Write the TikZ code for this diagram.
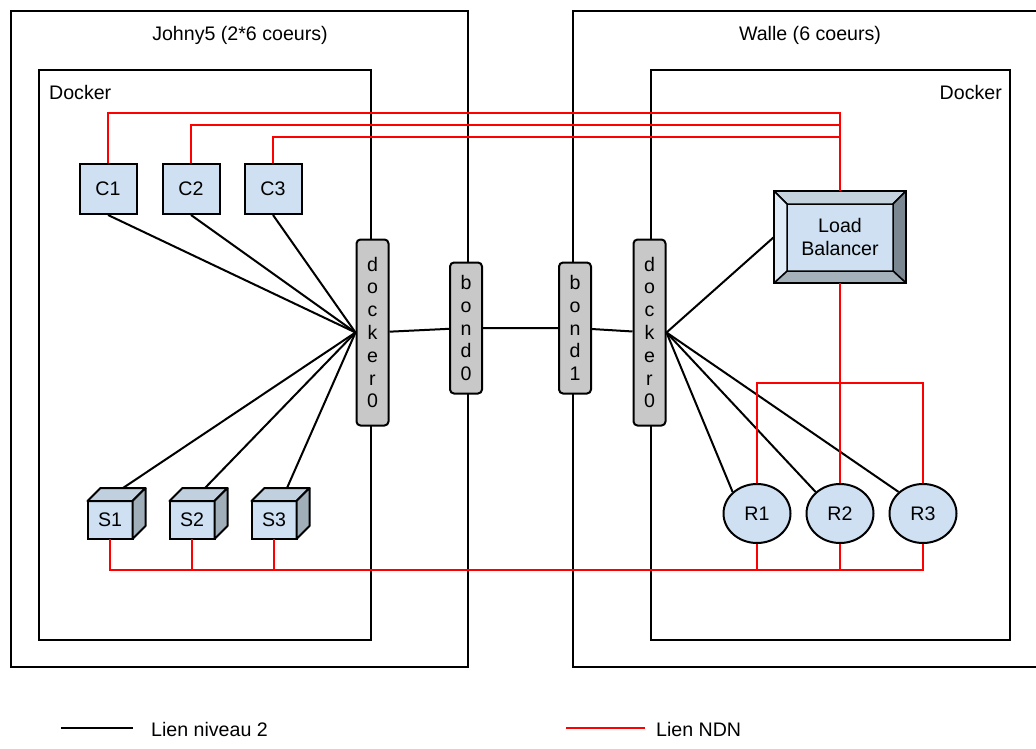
\documentclass[tikz,border=0pt]{standalone}
\usepackage{fontspec}
\setmainfont{Liberation Sans}
\usepackage{tikz}
\usetikzlibrary{shapes.geometric}
\definecolor{fondbleu}{RGB}{206,224,242}
\definecolor{gris}{RGB}{200,200,200}
\definecolor{cubehaut}{RGB}{192,208,222}
\definecolor{cubecote}{RGB}{160,174,186}
\definecolor{lbhaut}{RGB}{196,210,222}
\definecolor{lbgauche}{RGB}{224,236,248}
\definecolor{lbdroite}{RGB}{122,134,144}
\definecolor{lbbas}{RGB}{164,176,186}

\begin{document}
\begin{tikzpicture}[x = 1pt, y = -1pt,
	every node/.style = {font = \fontsize{19.6}{22.8}\selectfont, inner sep = 0pt},
	zone/.style = {line width = 2pt},
	lien/.style = {line width = 2pt},
	ndn/.style = {line width = 2pt, red},
	cont/.style = {draw, line width = 2pt, fill = fondbleu, minimum width = 57pt, minimum height = 50pt},
	srv/.style = {draw, line width = 2pt, fill = fondbleu, outer sep = 0pt, minimum width = 45pt, minimum height = 38pt},
	cube/.style = {draw, line width = 2pt, line join = round},
	rtr/.style = {ellipse, draw, line width = 2pt, fill = fondbleu, minimum width = 67pt, minimum height = 59pt},
	bridge/.style = {draw, line width = 2pt, fill = gris, rounded corners = 4pt, minimum width = 32pt, align = center},
	lb/.style = {draw, line width = 2pt, fill = fondbleu, outer sep = 0pt, minimum width = 132pt, minimum height = 92pt, align = center},
	bevel/.style = {draw, line width = 1.5pt, line join = round}
	]
	\clip (0,0) rectangle (1036,749);
	\fill [white] (0,0) rectangle (1036,749);
	%\draw [help lines, step = 50] (0,0) grid (1036,749);

	% machines
	\draw [zone] (11,11) rectangle (468,667);
	\draw [zone] (39,70) rectangle (371,640);
	\draw [zone] (573,11) rectangle (1050,667);
	\draw [zone] (651,70) rectangle (1010,640);
	\node [anchor = base] (johny) at (240,41) {Johny5 (2*6 coeurs)};
	\node [anchor = base] (walle) at (810,41) {Walle (6 coeurs)};
	\node [anchor = base west] (dk1) at (49,100) {Docker};
	\node [anchor = base east] (dk2) at (1002,100) {Docker};

	% ponts
	\node [bridge, minimum height = 186pt] (dockL) at (372.5,332.5) {d\\o\\c\\k\\e\\r\\0};
	\node [bridge, minimum height = 131pt] (bond0) at (466,328) {b\\o\\n\\d\\0};
	\node [bridge, minimum height = 131pt] (bond1) at (575,328) {b\\o\\n\\d\\1};
	\node [bridge, minimum height = 186pt] (dockR) at (649.5,332.5) {d\\o\\c\\k\\e\\r\\0};

	% conteneurs
	\node [cont] (C1) at (108,189) {C1};
	\node [cont] (C2) at (191,189) {C2};
	\node [cont] (C3) at (273,189) {C3};
	\node [srv] (S1) at (110,520) {S1};
	\node [srv] (S2) at (192,520) {S2};
	\node [srv] (S3) at (274,520) {S3};
	\foreach \s in {S1, S2, S3} {
		\draw [cube, fill = cubehaut] (\s.north west) -- ++(13,-13) -- ++(45,0) -- (\s.north east) -- cycle;
		\draw [cube, fill = cubecote] (\s.north east) -- ++(13,-13) -- ++(0,38) -- (\s.south east) -- cycle;
	}
	\node [rtr] (R1) at (757,513.5) {R1};
	\node [rtr] (R2) at (840,513.5) {R2};
	\node [rtr] (R3) at (923,513.5) {R3};

	% load balancer
	\node [lb] (LB) at (840,237) {Load\\Balancer};
	\path (LB.north west) ++(13,13) coordinate (lb1)
		(LB.north east) ++(-13,13) coordinate (lb2)
		(LB.south east) ++(-13,-12) coordinate (lb3)
		(LB.south west) ++(13,-12) coordinate (lb4);
	\draw [bevel, fill = lbhaut] (LB.north west) -- (LB.north east) -- (lb2) -- (lb1) -- cycle;
	\draw [bevel, fill = lbdroite] (LB.north east) -- (LB.south east) -- (lb3) -- (lb2) -- cycle;
	\draw [bevel, fill = lbbas] (LB.south east) -- (LB.south west) -- (lb4) -- (lb3) -- cycle;
	\draw [bevel, fill = lbgauche] (LB.south west) -- (LB.north west) -- (lb1) -- (lb4) -- cycle;
	\draw [line width = 2pt] (LB.north west) rectangle (LB.south east);

	% liens niveau 2
	\foreach \c in {C1, C2, C3}
		\draw [lien] (\c.south) -- (dockL.west);
	\foreach \s in {S1, S2, S3}
		\draw [lien] ([shift = {(13,-13)}] \s.north) -- (dockL.west);
	\draw [lien] (dockL) -- (bond0) -- (bond1) -- (dockR);
	\draw [lien] (dockR.east) -- (LB.west);
	\foreach \r in {R1, R2, R3}
		\draw [lien] (dockR.east) -- (\r.north west);

	% liens NDN
	\draw [ndn] (C1.north) -- ++(0,-50) -| (LB.north);
	\draw [ndn] (C2.north) -- ++(0,-38) -| (LB.north);
	\draw [ndn] (C3.north) -- ++(0,-26) -| (LB.north);
	\draw [ndn] (LB.south) -- (R2.north);
	\draw [ndn] (R1.north) -- ++(0,-100) -| (R3.north);
	\draw [ndn] (S1.south) -- ++(0,31) -| (R3.south);
	\foreach \n in {S2, S3}
		\draw [ndn] (\n.south) -- ++(0,31);
	\foreach \n in {R1, R2}
		\draw [ndn] (\n.south) -- ++(0,26);

	% legende
	\coordinate (leg1a) at (61,728);
	\coordinate (leg1b) at (133,728);
	\coordinate (leg2a) at (566,728);
	\coordinate (leg2b) at (645,728);
	\draw [lien] (leg1a) -- (leg1b);
	\draw [ndn] (leg2a) -- (leg2b);
	\node [anchor = base west] (leg1) at (151,736) {Lien niveau 2};
	\node [anchor = base west] (leg2) at (656,736) {Lien NDN};
\end{tikzpicture}
\end{document}
